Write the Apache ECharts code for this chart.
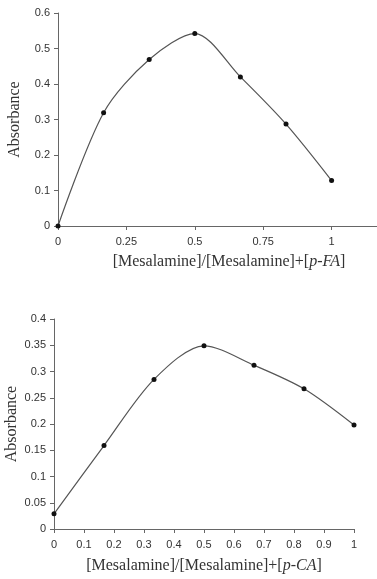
<!DOCTYPE html>
<html>
<head>
<meta charset="utf-8">
<script src="https://cdn.jsdelivr.net/npm/echarts@6/dist/echarts.min.js"></script>
<style>
  html, body { margin: 0; padding: 0; background: #fff; }
  #main { width: 377px; height: 579px; }
</style>
</head>
<body>
<div id="main"></div>
<script>
// mole fraction values (same for both plots)
var xFrac = [0, 1 / 6, 2 / 6, 3 / 6, 4 / 6, 5 / 6, 1];
// absorbance, p-FA (top) and p-CA (bottom)
var absFA = [0, 0.319, 0.469, 0.542, 0.42, 0.287, 0.128];
var absCA = [0.029, 0.159, 0.285, 0.349, 0.312, 0.267, 0.198];

function pairs(xs, ys) {
  return xs.map(function (x, i) { return [x, ys[i]]; });
}

var labelFont = { fontFamily: 'Liberation Sans', fontSize: 11, color: '#333' };
var nameFont = { fontFamily: 'Liberation Serif', fontSize: 16, color: '#333',
  rich: { i: { fontFamily: 'Liberation Serif', fontSize: 16, fontStyle: 'italic', color: '#333' } } };
var axisLine = { show: true, lineStyle: { color: '#666', width: 1 } };
var axisTick = { show: true, length: 4, lineStyle: { color: '#666' } };

var myChart = echarts.init(document.getElementById('main'));
var option = {
  backgroundColor: '#fff',
  animation: false,
  grid: [
    // top axis runs past the right edge of the picture
    { left: 58, top: 13, width: 342, height: 213, outerBoundsMode: 'none', containLabel: false },
    { left: 54, top: 319, width: 300, height: 210, outerBoundsMode: 'none', containLabel: false }
  ],
  xAxis: [{
    gridIndex: 0, type: 'value', min: 0, max: 1.25, interval: 0.25,
    name: '[Mesalamine]/[Mesalamine]+[{i|p}-{i|FA}]', nameLocation: 'middle', nameGap: 28,
    nameMoveOverlap: false,
    nameTextStyle: nameFont,
    axisLine: axisLine, axisTick: axisTick, splitLine: { show: false },
    axisLabel: Object.assign({
      margin: 10,
      formatter: function (v) { return v > 1 ? '' : String(v); }
    }, labelFont)
  }, {
    gridIndex: 1, type: 'value', min: 0, max: 1, interval: 0.1,
    name: '[Mesalamine]/[Mesalamine]+[{i|p}-{i|CA}]', nameLocation: 'middle', nameGap: 29,
    nameMoveOverlap: false,
    nameTextStyle: nameFont,
    axisLine: axisLine, axisTick: axisTick, splitLine: { show: false },
    axisLabel: Object.assign({ margin: 10 }, labelFont)
  }],
  yAxis: [{
    gridIndex: 0, type: 'value', min: 0, max: 0.6, interval: 0.1,
    name: 'Absorbance', nameLocation: 'middle', nameGap: 35,
    nameMoveOverlap: false,
    nameTextStyle: nameFont,
    axisLine: axisLine, axisTick: axisTick, splitLine: { show: false },
    axisLabel: Object.assign({ margin: 8 }, labelFont)
  }, {
    gridIndex: 1, type: 'value', min: 0, max: 0.4, interval: 0.05,
    name: 'Absorbance', nameLocation: 'middle', nameGap: 34,
    nameMoveOverlap: false,
    nameTextStyle: nameFont,
    axisLine: axisLine, axisTick: axisTick, splitLine: { show: false },
    axisLabel: Object.assign({ margin: 8 }, labelFont)
  }],
  series: [{
    type: 'line', xAxisIndex: 0, yAxisIndex: 0,
    data: pairs(xFrac, absFA), smooth: 0.3,
    symbol: 'circle', symbolSize: 5,
    itemStyle: { color: '#111' },
    lineStyle: { color: '#555', width: 1.2 }
  }, {
    type: 'line', xAxisIndex: 1, yAxisIndex: 1,
    data: pairs(xFrac, absCA), smooth: 0.3,
    symbol: 'circle', symbolSize: 5,
    itemStyle: { color: '#111' },
    lineStyle: { color: '#555', width: 1.2 }
  }]
};
myChart.setOption(option);
</script>
</body>
</html>
